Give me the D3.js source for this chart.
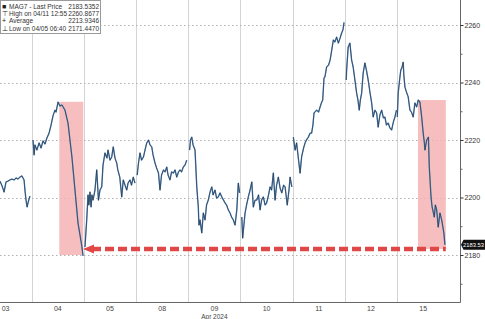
<!DOCTYPE html>
<html>
<head>
<meta charset="utf-8">
<script src="https://cdn.jsdelivr.net/npm/d3@7"></script>
<style>
body { margin: 0; background: #fff; }
text { font-family: "Liberation Sans", Arial, sans-serif; }
</style>
</head>
<body>
<div id="chart"></div>
<script>
// trading days shown on the axis
var dayLabels = ["03", "04", "05", "08", "09", "10", "11", "12", "15"];

// intraday prices per day: hour of day and MAG7 index level
var apr03Hours = [9.4, 10.4, 11.3, 12.2, 13.1, 14.0, 14.9, 15.9, 16.8, 17.7, 18.6, 19.5, 20.5, 20.9, 21.4, 21.9, 22.3, 22.8, 23.2];
var apr03Values = [2205.7, 2204.0, 2201.9, 2205.4, 2205.7, 2206.1, 2206.4, 2206.1, 2206.8, 2206.4, 2207.1, 2207.5, 2206.1, 2202.6, 2199.1, 2196.7, 2198.1, 2199.5, 2200.5];

var apr04Hours = [0.6, 1.1, 1.5, 2.4, 3.4, 4.3, 5.2, 6.1, 7.0, 8.0, 8.9, 9.8, 10.7, 11.2, 12.1, 13.0, 13.9, 15.3, 16.7, 17.6, 18.5, 19.9, 21.3, 22.2, 23.1, 23.6];
var apr04Values = [2220.0, 2214.8, 2218.3, 2216.5, 2219.0, 2217.2, 2219.7, 2218.6, 2220.7, 2222.4, 2225.2, 2228.4, 2230.4, 2229.7, 2233.2, 2231.8, 2232.2, 2230.4, 2225.9, 2220.0, 2214.1, 2202.6, 2191.1, 2187.0, 2182.8, 2179.7];

var apr05Hours = [0.5, 1.3, 1.9, 2.3, 2.8, 3.3, 3.7, 4.2, 5.1, 5.9, 6.7, 7.4, 8.2, 8.8, 9.7, 10.6, 11.1, 12.0, 12.8, 13.5, 14.3, 15.1, 15.6, 16.5, 17.4, 18.1, 18.9, 19.7, 20.3, 21.2, 21.9, 22.7, 23.5];
var apr05Values = [2182.8, 2192.2, 2200.9, 2197.4, 2201.9, 2196.7, 2200.9, 2199.1, 2202.6, 2209.6, 2199.1, 2202.6, 2203.7, 2211.3, 2215.5, 2213.7, 2216.5, 2213.0, 2214.1, 2217.6, 2213.7, 2212.0, 2209.6, 2207.1, 2200.2, 2206.1, 2204.3, 2202.6, 2205.0, 2206.1, 2204.3, 2207.1, 2205.0];

var apr08Hours = [0.5, 1.1, 1.8, 2.5, 3.4, 4.1, 4.9, 5.7, 6.4, 7.2, 7.8, 8.7, 9.4, 10.3, 11.0, 11.7, 12.6, 13.3, 14.1, 14.7, 15.6, 16.3, 17.2, 17.9, 18.7, 19.5, 20.2, 20.9, 21.7, 22.5, 23.3];
var apr08Values = [2207.8, 2212.0, 2215.5, 2213.0, 2214.1, 2216.5, 2219.0, 2220.0, 2218.3, 2217.6, 2214.8, 2212.0, 2210.3, 2208.5, 2202.6, 2207.8, 2209.6, 2208.9, 2210.6, 2207.8, 2206.1, 2208.9, 2208.5, 2209.6, 2207.1, 2208.9, 2209.6, 2208.9, 2210.6, 2211.3, 2213.0];

var apr09Hours = [0.6, 1.0, 1.6, 2.2, 3.1, 3.9, 4.6, 4.9, 5.4, 6.2, 6.9, 7.7, 8.4, 9.2, 10.0, 10.8, 11.4, 12.3, 13.0, 13.8, 14.6, 15.4, 16.2, 16.9, 17.6, 18.4, 19.2, 19.9, 20.7, 21.5, 22.3, 23.0, 23.6];
var apr09Values = [2216.5, 2220.0, 2221.0, 2218.3, 2216.5, 2203.7, 2196.7, 2190.4, 2192.2, 2187.7, 2194.6, 2192.2, 2197.4, 2199.1, 2201.9, 2203.7, 2200.9, 2202.6, 2199.8, 2200.2, 2201.6, 2200.2, 2199.1, 2198.1, 2197.4, 2195.7, 2194.6, 2193.2, 2192.2, 2190.4, 2195.7, 2205.0, 2201.6];

var apr10Hours = [0.6, 1.0, 2.1, 2.8, 3.6, 4.4, 5.2, 5.9, 6.7, 7.5, 8.3, 9.0, 9.7, 10.5, 11.3, 12.0, 12.9, 13.6, 14.3, 15.1, 15.9, 16.6, 17.4, 18.2, 19.0, 19.8, 20.5, 21.5, 22.3, 22.8, 23.6];
var apr10Values = [2193.2, 2185.9, 2194.6, 2197.4, 2200.2, 2202.6, 2205.4, 2196.7, 2199.1, 2199.1, 2200.9, 2195.7, 2199.1, 2200.2, 2197.4, 2198.1, 2200.9, 2203.7, 2202.6, 2208.5, 2199.1, 2204.3, 2207.1, 2203.3, 2201.6, 2204.3, 2203.7, 2197.4, 2202.6, 2207.1, 2203.7];

var apr11Hours = [0.3, 1.1, 1.8, 2.7, 3.4, 4.1, 5.0, 5.7, 6.3, 7.2, 8.0, 8.7, 9.3, 9.8, 11.0, 11.9, 12.6, 13.2, 13.8, 14.4, 14.8, 15.6, 16.5, 17.2, 17.8, 18.7, 19.4, 20.2, 21.0, 21.8, 22.5, 23.1, 23.6];
var apr11Values = [2221.0, 2216.5, 2219.0, 2213.0, 2208.5, 2214.1, 2217.2, 2219.0, 2220.0, 2221.0, 2222.4, 2222.4, 2225.2, 2229.4, 2230.4, 2229.7, 2231.5, 2232.9, 2233.9, 2241.6, 2241.9, 2245.4, 2246.1, 2247.8, 2250.6, 2254.8, 2254.1, 2255.8, 2253.7, 2255.5, 2257.2, 2258.3, 2260.9];

var apr12Hours = [0.6, 0.8, 1.5, 2.3, 3.1, 3.8, 4.6, 5.4, 6.0, 6.6, 7.1, 7.7, 8.4, 9.2, 9.9, 10.7, 11.5, 12.3, 13.0, 13.8, 14.6, 15.3, 16.1, 16.9, 17.7, 18.4, 19.1, 19.9, 20.7, 21.5, 22.3, 23.0, 23.7];
var apr12Values = [2240.9, 2244.3, 2252.3, 2253.7, 2247.8, 2245.4, 2240.9, 2236.3, 2233.9, 2230.4, 2233.9, 2236.3, 2243.3, 2246.8, 2244.3, 2240.9, 2236.7, 2232.9, 2228.0, 2230.4, 2229.4, 2224.5, 2228.7, 2230.4, 2227.7, 2228.0, 2225.2, 2225.9, 2224.2, 2223.5, 2226.3, 2228.0, 2230.4];

var apr15Hours = [0.1, 0.5, 1.3, 1.7, 2.3, 2.8, 3.1, 3.6, 4.3, 5.1, 5.9, 6.6, 7.4, 8.2, 9.0, 9.7, 10.5, 11.3, 12.0, 12.5, 12.8, 13.6, 14.4, 14.8, 15.6, 16.1, 16.6, 17.1, 17.6, 18.2, 18.9, 19.7, 20.5, 21.1, 21.5, 22.0];
var apr15Values = [2228.0, 2236.3, 2241.9, 2244.3, 2245.4, 2247.1, 2242.6, 2238.4, 2236.7, 2235.0, 2230.4, 2229.7, 2228.0, 2232.9, 2231.5, 2233.9, 2233.2, 2228.0, 2222.4, 2219.3, 2216.5, 2220.0, 2221.0, 2210.6, 2200.2, 2196.7, 2195.0, 2193.2, 2197.4, 2195.7, 2189.7, 2194.6, 2192.2, 2189.5, 2187.7, 2183.5352];

var dayHours = [apr03Hours, apr04Hours, apr05Hours, apr08Hours, apr09Hours, apr10Hours, apr11Hours, apr12Hours, apr15Hours];
var dayValues = [apr03Values, apr04Values, apr05Values, apr08Values, apr09Values, apr10Values, apr11Values, apr12Values, apr15Values];

// y axis ticks
var majorTicks = [2180, 2200, 2220, 2240, 2260];
var minorTicks = [2170, 2190, 2210, 2230, 2250];

// shaded selloff windows: day index, start/end hour, top/bottom level
var bandDays = [1, 8];
var bandStartHours = [12.7, 9.6];
var bandEndHours = [23.7, 22.4];
var bandTops = [2233.3, 2233.9];
var bandBottoms = [2180.0, 2182.1];

// dashed arrow level and span
var arrowLevel = 2182.1;
var arrowFrom = [1, 23.6];
var arrowTo = [8, 22.4];

// legend
var legendIcons = ["■", "⊤", "+", "⊥"];
var legendNames = ["MAG7 - Last Price", "High on 04/11 12:55", "Average", "Low on 04/05 06:40"];
var legendValues = ["2183.5352", "2260.8677", "2213.9346", "2171.4470"];
var lastPrice = 2183.5352;

var width = 485, height = 319, plotW = 460, plotH = 302;

var x = d3.scaleLinear().domain([0.393, 9.205]).range([0, plotW]);
var y = d3.scaleLinear().domain([2163.65, 2268.7]).range([plotH, 0]);
function tx(day, hour) { return x(day + hour / 24); }

var svg = d3.select("#chart").append("svg").attr("width", width).attr("height", height);

svg.append("clipPath").attr("id", "plot").append("rect").attr("width", plotW).attr("height", plotH);

// vertical day gridlines
svg.selectAll(".vgrid").data(d3.range(1, dayLabels.length)).enter().append("line")
    .attr("x1", function(d) { return Math.round(x(d)) + 0.5; })
    .attr("x2", function(d) { return Math.round(x(d)) + 0.5; })
    .attr("y1", 0).attr("y2", plotH)
    .attr("stroke", "#d4d4d4").attr("stroke-width", 1);

// horizontal dotted gridlines
svg.selectAll(".hgrid").data(majorTicks).enter().append("line")
    .attr("x1", 0).attr("x2", plotW)
    .attr("y1", function(d) { return Math.round(y(d)) + 0.5; })
    .attr("y2", function(d) { return Math.round(y(d)) + 0.5; })
    .attr("stroke", "#b0b0b0").attr("stroke-dasharray", "1.5,2.5");

var plot = svg.append("g").attr("clip-path", "url(#plot)");

// shaded bands
plot.selectAll(".band").data(bandDays).enter().append("rect")
    .attr("x", function(d, i) { return tx(d, bandStartHours[i]); })
    .attr("width", function(d, i) { return tx(d, bandEndHours[i]) - tx(d, bandStartHours[i]); })
    .attr("y", function(d, i) { return y(bandTops[i]); })
    .attr("height", function(d, i) { return y(bandBottoms[i]) - y(bandTops[i]); })
    .attr("fill", "#f4b3b3").attr("opacity", 0.85);

// price line, one path per trading day
var line = d3.line()
    .x(function(d) { return tx(d.day, d.hour); })
    .y(function(d) { return y(d.value); });

var sessions = dayHours.map(function(hs, i) {
    return hs.map(function(h, j) { return { day: i, hour: h, value: dayValues[i][j] }; });
});

plot.selectAll(".under").data(sessions).enter().append("path")
    .attr("d", line).attr("fill", "none")
    .attr("stroke", "#5f8fc0").attr("stroke-width", 1.4).attr("stroke-linejoin", "round");
plot.selectAll(".core").data(sessions).enter().append("path")
    .attr("d", line).attr("fill", "none")
    .attr("stroke", "#1c2a3a").attr("stroke-width", 0.6).attr("stroke-linejoin", "round");

// dashed red arrow
var ax0 = tx(arrowFrom[0], arrowFrom[1]), ax1 = tx(arrowTo[0], arrowTo[1]), ay = y(arrowLevel);
plot.append("line")
    .attr("x1", ax0 + 9).attr("x2", ax1).attr("y1", ay).attr("y2", ay)
    .attr("stroke", "#e04848").attr("stroke-width", 4.5).attr("stroke-dasharray", "9,4");
plot.append("path")
    .attr("d", "M" + ax0 + "," + ay + "L" + (ax0 + 11) + "," + (ay - 4.5) + "L" + (ax0 + 11) + "," + (ay + 4.5) + "Z")
    .attr("fill", "#e04848");

// frame: right axis and bottom line
svg.append("line").attr("x1", plotW + 0.5).attr("x2", plotW + 0.5).attr("y1", 0).attr("y2", plotH + 0.5)
    .attr("stroke", "#666");
svg.append("line").attr("x1", 0).attr("x2", plotW + 0.5).attr("y1", plotH + 0.5).attr("y2", plotH + 0.5)
    .attr("stroke", "#666");

var yAxis = d3.axisRight(y).tickValues(majorTicks).tickSize(3).tickPadding(1).tickFormat(d3.format("d"));
var ya = svg.append("g").attr("transform", "translate(" + (plotW + 0.5) + ",0)").call(yAxis);
ya.select(".domain").remove();
ya.selectAll("line").attr("stroke", "#333");
ya.selectAll("text").attr("font-size", 7).attr("fill", "#333").style("font-family", "Liberation Sans, Arial, sans-serif");

var yMinor = d3.axisRight(y).tickValues(minorTicks).tickSize(2).tickFormat("");
var ym = svg.append("g").attr("transform", "translate(" + (plotW + 0.5) + ",0)").call(yMinor);
ym.select(".domain").remove();
ym.selectAll("line").attr("stroke", "#666");

// day labels
svg.selectAll(".dlab").data(dayLabels).enter().append("text")
    .attr("x", function(d, i) { return x(i + 0.5); })
    .attr("y", 311)
    .attr("text-anchor", "middle").attr("font-size", 7).attr("fill", "#444")
    .text(function(d) { return d; });
svg.append("text").attr("x", x(4.5)).attr("y", 318.5)
    .attr("text-anchor", "middle").attr("font-size", 6.5).attr("fill", "#444").text("Apr 2024");

// last price tag (value truncated to 2 decimals, as on the terminal)
var ly = y(lastPrice);
svg.append("path")
    .attr("d", "M" + (plotW + 1) + "," + ly + "L" + (plotW + 3.5) + "," + (ly - 5) + "H486V" + (ly + 5) + "H" + (plotW + 3.5) + "Z")
    .attr("fill", "#111");
svg.append("text").attr("x", plotW + 3).attr("y", ly + 2.2)
    .attr("font-size", 5.8).attr("fill", "#fff").text((Math.floor(lastPrice * 100) / 100).toFixed(2));

// legend box
var lg = svg.append("g");
lg.append("rect").attr("x", 0.5).attr("y", 0.5).attr("width", 100).attr("height", 33)
    .attr("fill", "#fff").attr("stroke", "#999");
lg.selectAll(".li").data(legendIcons).enter().append("text")
    .attr("x", 2).attr("y", function(d, i) { return 8.5 + i * 7.4; })
    .attr("font-size", 7).attr("fill", "#222").text(function(d) { return d; });
lg.selectAll(".ln").data(legendNames).enter().append("text")
    .attr("x", 9).attr("y", function(d, i) { return 8.5 + i * 7.4; })
    .attr("font-size", 6.5).attr("fill", "#333").text(function(d) { return d; });
lg.selectAll(".lv").data(legendValues).enter().append("text")
    .attr("x", 99).attr("y", function(d, i) { return 8.5 + i * 7.4; })
    .attr("text-anchor", "end").attr("font-size", 6.5).attr("fill", "#333").text(function(d) { return d; });
</script>
</body>
</html>
